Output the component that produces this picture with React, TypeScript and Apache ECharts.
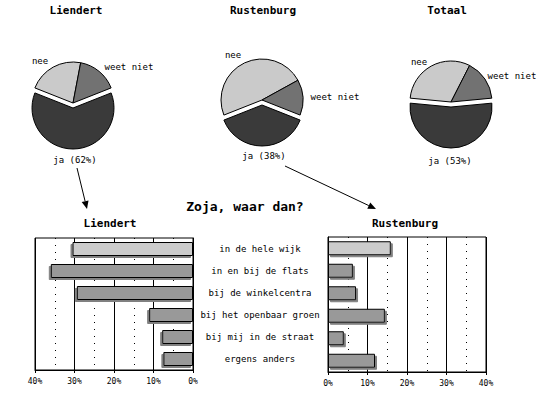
import React, { useEffect, useRef } from "react";
import * as echarts from "echarts";

// ---- data ----
const pieTitles = ["Liendert", "Rustenburg", "Totaal"];
const pieCategories = ["ja", "nee", "weet niet"];
const liendertPie = [62, 22, 16];
const rustenburgPie = [38, 48, 14];
const totaalPie = [53, 31, 16];

const barTitle = "Zoja, waar dan?";
const locations = [
  "in de hele wijk",
  "in en bij de flats",
  "bij de winkelcentra",
  "bij het openbaar groen",
  "bij mij in de straat",
  "ergens anders",
];
const liendertBars = [30.5, 36.0, 29.4, 11.1, 7.8, 7.5];
const rustenburgBars = [15.9, 6.3, 7.1, 14.4, 4.0, 11.9];
const axisMin = 0;
const axisMax = 40;
const axisStep = 10;

const MONO = "DejaVu Sans Mono";
const pieColors = ["#3a3a3a", "#cacaca", "#727272"];

function arrow(x1: number, y1: number, x2: number, y2: number) {
  const dx = x2 - x1;
  const dy = y2 - y1;
  const len = Math.sqrt(dx * dx + dy * dy);
  const ux = dx / len;
  const uy = dy / len;
  const bx = x2 - ux * 8;
  const by = y2 - uy * 8;
  const px = -uy * 3.5;
  const py = ux * 3.5;
  return [
    {
      type: "line",
      shape: { x1, y1, x2: bx, y2: by },
      style: { stroke: "#000", lineWidth: 1 },
    },
    {
      type: "polygon",
      shape: {
        points: [
          [x2, y2],
          [bx + px, by + py],
          [bx - px, by - py],
        ],
      },
      style: { fill: "#000" },
    },
  ];
}

function txt(
  text: string,
  x: number,
  y: number,
  size: number,
  bold = false,
  align = "center"
) {
  return {
    type: "text",
    x,
    y,
    style: {
      text,
      fontFamily: MONO,
      fontWeight: bold ? "bold" : "normal",
      fontSize: size,
      fill: "#000",
      align,
      verticalAlign: "middle",
    },
  };
}

export default function App() {
  const ref = useRef<HTMLDivElement>(null);
  useEffect(() => {
    if (!ref.current) return;
    const chart = echarts.init(ref.current, undefined, { renderer: "svg" });

    const pies = [liendertPie, rustenburgPie, totaalPie];
    const pieCenters = [
      [73, 103],
      [262, 100],
      [451, 102],
    ];
    const labelPos = [
      [
        [75, 160],
        [40, 61],
        [129, 67],
      ],
      [
        [264, 156],
        [233, 55],
        [335, 97],
      ],
      [
        [450, 161],
        [419, 62],
        [512, 76],
      ],
    ];

    const pieSeries = pies.map((vals, pi) => ({
      type: "pie",
      center: pieCenters[pi],
      radius: 41,
      startAngle: -90 + (vals[0] * 3.6) / 2,
      clockwise: true,
      selectedMode: "single",
      selectedOffset: 5,
      silent: true,
      emphasis: { disabled: true },
      itemStyle: { borderColor: "#000", borderWidth: 1 },
      label: { show: false },
      labelLine: { show: false },
      data: vals.map((v, i) => ({
        name: pieCategories[i],
        value: v,
        selected: i === 0,
        itemStyle: { color: pieColors[i] },
      })),
    }));

    const pieLabels: any[] = [];
    pies.forEach((vals, pi) => {
      vals.forEach((v, i) => {
        const t = i === 0 ? `${pieCategories[i]} (${v}%)` : pieCategories[i];
        pieLabels.push(txt(t, labelPos[pi][i][0], labelPos[pi][i][1], 9));
      });
    });

    const barData = (vals: number[], dir: number) =>
      vals.map((v, i) => ({
        value: v,
        itemStyle: {
          color: i === 0 ? "#cccccc" : "#999999",
          borderColor: "#000",
          borderWidth: 1,
          shadowColor: "#808080",
          shadowBlur: 0,
          shadowOffsetX: 2 * dir,
          shadowOffsetY: 2,
        },
      }));

    const xAxisBase = {
      type: "value",
      min: axisMin,
      max: axisMax,
      interval: axisStep,
      axisLine: { show: true, lineStyle: { color: "#000" } },
      axisTick: { show: true, length: 3, lineStyle: { color: "#000" } },
      axisLabel: {
        fontFamily: MONO,
        fontSize: 8,
        color: "#000",
        margin: 7,
        formatter: (v: number) => `${v}%`,
      },
      splitLine: { show: true, lineStyle: { color: "#000", width: 1 } },
      minorTick: { show: false, splitNumber: 2 },
      minorSplitLine: {
        show: true,
        lineStyle: { color: "#000", width: 1, type: [1, 6] },
      },
    };

    const option: any = {
      animation: false,
      backgroundColor: "#fff",
      grid: [
        {
          left: 35,
          right: 540 - 193,
          top: 238,
          height: 132,
          show: true,
          borderColor: "#000",
          borderWidth: 1,
          backgroundColor: "transparent",
        },
        {
          left: 328,
          right: 540 - 486,
          top: 237,
          height: 135,
          show: true,
          borderColor: "#000",
          borderWidth: 1,
          backgroundColor: "transparent",
        },
      ],
      xAxis: [
        { ...xAxisBase, gridIndex: 0, inverse: true },
        { ...xAxisBase, gridIndex: 1 },
      ],
      yAxis: [
        {
          type: "category",
          gridIndex: 0,
          data: locations,
          inverse: true,
          position: "right",
          axisLine: { show: true, lineStyle: { color: "#000" } },
          axisTick: { show: false },
          splitLine: { show: false },
          axisLabel: {
            fontFamily: MONO,
            fontSize: 9,
            color: "#000",
            align: "center",
            margin: 67,
          },
        },
        {
          type: "category",
          gridIndex: 1,
          data: locations,
          inverse: true,
          axisLine: { show: true, lineStyle: { color: "#000" } },
          axisTick: { show: false },
          splitLine: { show: false },
          axisLabel: { show: false },
        },
      ],
      series: [
        ...pieSeries,
        {
          type: "bar",
          xAxisIndex: 0,
          yAxisIndex: 0,
          barWidth: 14,
          silent: true,
          data: barData(liendertBars, -1),
        },
        {
          type: "bar",
          xAxisIndex: 1,
          yAxisIndex: 1,
          barWidth: 14,
          silent: true,
          data: barData(rustenburgBars, 1),
        },
      ],
      graphic: [
        ...pieTitles.map((t, i) => txt(t, [76, 263, 447][i], 10, 11, true)),
        txt(barTitle, 245, 206, 13, true),
        txt(pieTitles[0], 110, 223, 11, true),
        txt(pieTitles[1], 405, 223, 11, true),
        ...pieLabels,
        ...arrow(77, 168, 87, 209),
        ...arrow(285, 166, 376, 209),
      ],
    };

    chart.setOption(option);
    return () => chart.dispose();
  }, []);

  return (
    <div
      ref={ref}
      style={{ position: "fixed", left: 0, top: 0, width: 540, height: 394 }}
    />
  );
}
